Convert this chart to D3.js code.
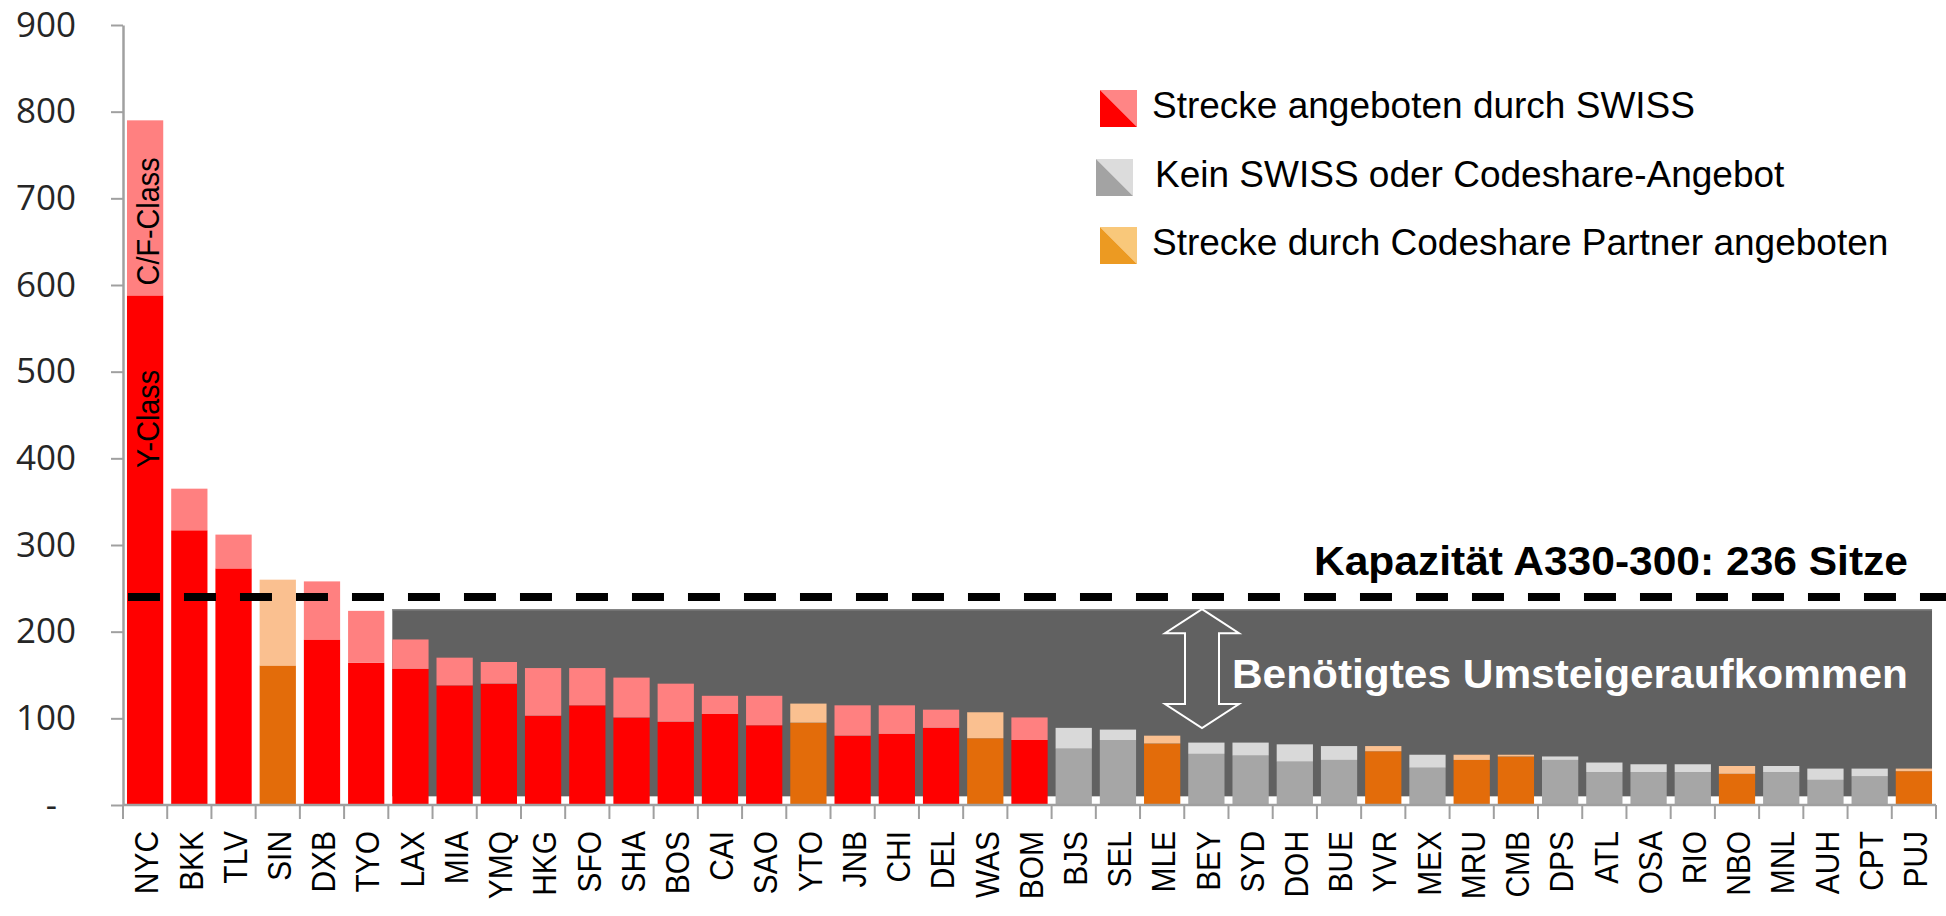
<!DOCTYPE html>
<html>
<head>
<meta charset="utf-8">
<script src="https://cdn.jsdelivr.net/npm/d3@7"></script>
<style>
  body { margin: 0; background: #fff; }
  svg { display: block; }
</style>
</head>
<body>
<svg id="chart"></svg>
<script>
const cities = ['NYC', 'BKK', 'TLV', 'SIN', 'DXB', 'TYO', 'LAX', 'MIA', 'YMQ', 'HKG', 'SFO',
  'SHA', 'BOS', 'CAI', 'SAO', 'YTO', 'JNB', 'CHI', 'DEL', 'WAS', 'BOM', 'BJS', 'SEL', 'MLE',
  'BEY', 'SYD', 'DOH', 'BUE', 'YVR', 'MEX', 'MRU', 'CMB', 'DPS', 'ATL', 'OSA', 'RIO', 'NBO',
  'MNL', 'AUH', 'CPT', 'PUJ'];
// Y-Class passengers (lower part of each bar)
const yClass = [588, 317, 273, 161, 191, 164, 157, 138, 140, 103, 115,
  101, 96, 105, 92, 95, 80, 82, 89, 77, 75, 65, 75, 71,
  59, 57, 50, 52, 62, 43, 52, 56, 52, 38, 38, 38, 36,
  38, 29, 33, 39];
// C/F-Class passengers (upper part)
const cfClass = [202, 48, 39, 99, 67, 60, 34, 32, 25, 55, 43,
  46, 44, 21, 34, 22, 35, 33, 21, 30, 26, 24, 12, 9,
  13, 15, 20, 16, 6, 15, 6, 2, 4, 11, 9, 9, 9,
  7, 13, 9, 3];
// S = SWISS, P = Codeshare partner, N = kein Angebot
const provider = ['S', 'S', 'S', 'P', 'S', 'S', 'S', 'S', 'S', 'S', 'S',
  'S', 'S', 'S', 'S', 'P', 'S', 'S', 'S', 'P', 'S', 'N', 'N', 'P',
  'N', 'N', 'N', 'N', 'P', 'N', 'P', 'P', 'N', 'N', 'N', 'N', 'P',
  'N', 'N', 'N', 'P'];
const yTicks = [0, 100, 200, 300, 400, 500, 600, 700, 800, 900];
const capacityLine = 240;          // drawn position of the 236-seat line
const capacityLabel = 'Kapazität A330-300: 236 Sitze';
const demandBox = { from: 'LAX', to: 'PUJ', low: 10, high: 226 };
const legendItems = [
  { key: 'S', label: 'Strecke angeboten durch SWISS' },
  { key: 'N', label: 'Kein SWISS oder Codeshare-Angebot' },
  { key: 'P', label: 'Strecke durch Codeshare Partner angeboten' }
];

const colors = {
  S: ['#ff0000', '#ff8080'],
  P: ['#e36c0a', '#fac090'],
  N: ['#a6a6a6', '#d9d9d9']
};
const legendColors = {
  S: ['#ff0000', '#ff8585'],
  P: ['#ec9a22', '#f9c87a'],
  N: ['#a3a3a3', '#dcdcdc']
};

const svgWidth = 1946, svgHeight = 916;
const plotLeft = 123, plotRight = 1936, plotTop = 25, plotBottom = 805;

const svg = d3.select('#chart')
  .attr('width', svgWidth)
  .attr('height', svgHeight);

const table = cities.map((c, i) => ({ city: c, y: yClass[i], cf: cfClass[i], type: provider[i] }));

const x = d3.scaleBand()
  .domain(cities)
  .range([plotLeft, plotRight])
  .paddingInner(0.18)
  .paddingOuter(0.09);

const y = d3.scaleLinear()
  .domain([0, 900])
  .range([plotBottom, plotTop]);

// grey box: needed transfer volume
svg.append('rect')
  .attr('x', x(demandBox.from))
  .attr('y', y(demandBox.high))
  .attr('width', x(demandBox.to) + x.bandwidth() - x(demandBox.from))
  .attr('height', y(demandBox.low) - y(demandBox.high))
  .style('fill', '#616161');
svg.append('line')
  .attr('x1', x(demandBox.from)).attr('x2', x(demandBox.to) + x.bandwidth())
  .attr('y1', y(demandBox.high) + 0.5).attr('y2', y(demandBox.high) + 0.5)
  .style('stroke', '#858585')
  .style('stroke-width', 1.5);

// stacked bars
const stack = d3.stack().keys(['y', 'cf']);
const layers = stack(table);

svg.selectAll('g.layer')
  .data(layers)
  .enter()
  .append('g')
  .attr('class', 'layer')
  .each(function(layer, li) {
    d3.select(this).selectAll('rect')
      .data(layer)
      .enter()
      .append('rect')
      .attr('x', d => x(d.data.city))
      .attr('y', d => y(d[1]))
      .attr('width', x.bandwidth())
      .attr('height', d => y(d[0]) - y(d[1]))
      .style('fill', d => colors[d.data.type][li]);
  });

// y axis
const yAxis = d3.axisLeft(y)
  .tickValues(yTicks)
  .tickSize(12)
  .tickSizeOuter(0)
  .tickPadding(35)
  .tickFormat(d => d === 0 ? '-' : d);

const yg = svg.append('g')
  .attr('transform', `translate(${plotLeft},0)`)
  .call(yAxis);
yg.select('.domain').style('stroke', '#a0a0a0').style('stroke-width', 2.5);
yg.selectAll('.tick line').style('stroke', '#a0a0a0').style('stroke-width', 2);
yg.selectAll('.tick text')
  .style('font-family', '"Open Sans", "DejaVu Sans", sans-serif')
  .style('font-size', '35px')
  .style('fill', '#262626');
yg.selectAll('.tick text').filter(d => d === 0).attr('x', -66);

// x axis
svg.append('line')
  .attr('x1', plotLeft).attr('x2', plotRight)
  .attr('y1', plotBottom).attr('y2', plotBottom)
  .style('stroke', '#a0a0a0')
  .style('stroke-width', 2.5);

const step = x.step();
svg.selectAll('line.xtick')
  .data(d3.range(cities.length + 1))
  .enter()
  .append('line')
  .attr('class', 'xtick')
  .attr('x1', i => plotLeft + i * step)
  .attr('x2', i => plotLeft + i * step)
  .attr('y1', plotBottom)
  .attr('y2', plotBottom + 14)
  .style('stroke', '#a0a0a0')
  .style('stroke-width', 2);

svg.selectAll('text.xlabel')
  .data(cities)
  .enter()
  .append('text')
  .attr('class', 'xlabel')
  .attr('transform', (d, i) => `translate(${plotLeft + i * step + step / 2 + 1},831) rotate(-90) scale(0.88,1)`)
  .attr('text-anchor', 'end')
  .attr('dy', '0.36em')
  .style('font-family', '"Liberation Sans", Arial, sans-serif')
  .style('font-size', '34px')
  .style('fill', '#000')
  .text(d => d);

// class labels in the NYC bar
const nycX = x('NYC') + x.bandwidth() / 2 + 2;
svg.append('text')
  .attr('transform', `translate(${nycX},${y(yClass[0]) - 10}) rotate(-90) scale(0.9,1)`)
  .attr('dy', '0.36em')
  .style('font-family', '"Liberation Sans", Arial, sans-serif')
  .style('font-size', '32px')
  .text('C/F-Class');
svg.append('text')
  .attr('transform', `translate(${nycX},468) rotate(-90) scale(0.9,1)`)
  .attr('dy', '0.36em')
  .style('font-family', '"Liberation Sans", Arial, sans-serif')
  .style('font-size', '32px')
  .text('Y-Class');

// capacity line
svg.append('line')
  .attr('x1', x('NYC') + 1).attr('x2', svgWidth)
  .attr('y1', y(capacityLine)).attr('y2', y(capacityLine))
  .style('stroke', '#000')
  .style('stroke-width', 8)
  .style('stroke-dasharray', '32,24');

svg.append('text')
  .attr('x', 1908)
  .attr('y', 575)
  .attr('text-anchor', 'end')
  .attr('textLength', 594)
  .attr('lengthAdjust', 'spacingAndGlyphs')
  .style('font-family', '"Liberation Sans", Arial, sans-serif')
  .style('font-weight', 'bold')
  .style('font-size', '41px')
  .text(capacityLabel);

// double arrow + label
const ax = 1202, at = y(demandBox.high), ab = 728;
svg.append('path')
  .attr('d', `M${ax},${at} L${ax + 37},${at + 24} L${ax + 17},${at + 24} L${ax + 17},${ab - 24}
    L${ax + 37},${ab - 24} L${ax},${ab} L${ax - 37},${ab - 24} L${ax - 17},${ab - 24}
    L${ax - 17},${at + 24} L${ax - 37},${at + 24} Z`)
  .style('fill', 'none')
  .style('stroke', '#fff')
  .style('stroke-width', 2);

svg.append('text')
  .attr('x', 1908)
  .attr('y', 688)
  .attr('text-anchor', 'end')
  .attr('textLength', 676)
  .attr('lengthAdjust', 'spacingAndGlyphs')
  .style('font-family', '"Liberation Sans", Arial, sans-serif')
  .style('font-weight', 'bold')
  .style('font-size', '40px')
  .style('fill', '#fff')
  .text('Benötigtes Umsteigeraufkommen');

// legend
const legend = svg.append('g');
const rowY = [90, 159, 227];
const legendRows = legend.selectAll('g')
  .data(legendItems)
  .enter()
  .append('g')
  .attr('transform', (d, i) => `translate(${i === 1 ? 1096 : 1100},${rowY[i]})`);

legendRows.append('path')
  .attr('d', 'M0,0 L37,0 L37,37 Z')
  .style('fill', d => legendColors[d.key][1]);
legendRows.append('path')
  .attr('d', 'M0,0 L37,37 L0,37 Z')
  .style('fill', d => legendColors[d.key][0]);

legendRows.append('text')
  .attr('x', (d, i) => i === 1 ? 59 : 52)
  .attr('y', 28)
  .style('font-family', '"Liberation Sans", Arial, sans-serif')
  .style('font-size', '37px')
  .style('fill', '#000')
  .text(d => d.label);
</script>
</body>
</html>
